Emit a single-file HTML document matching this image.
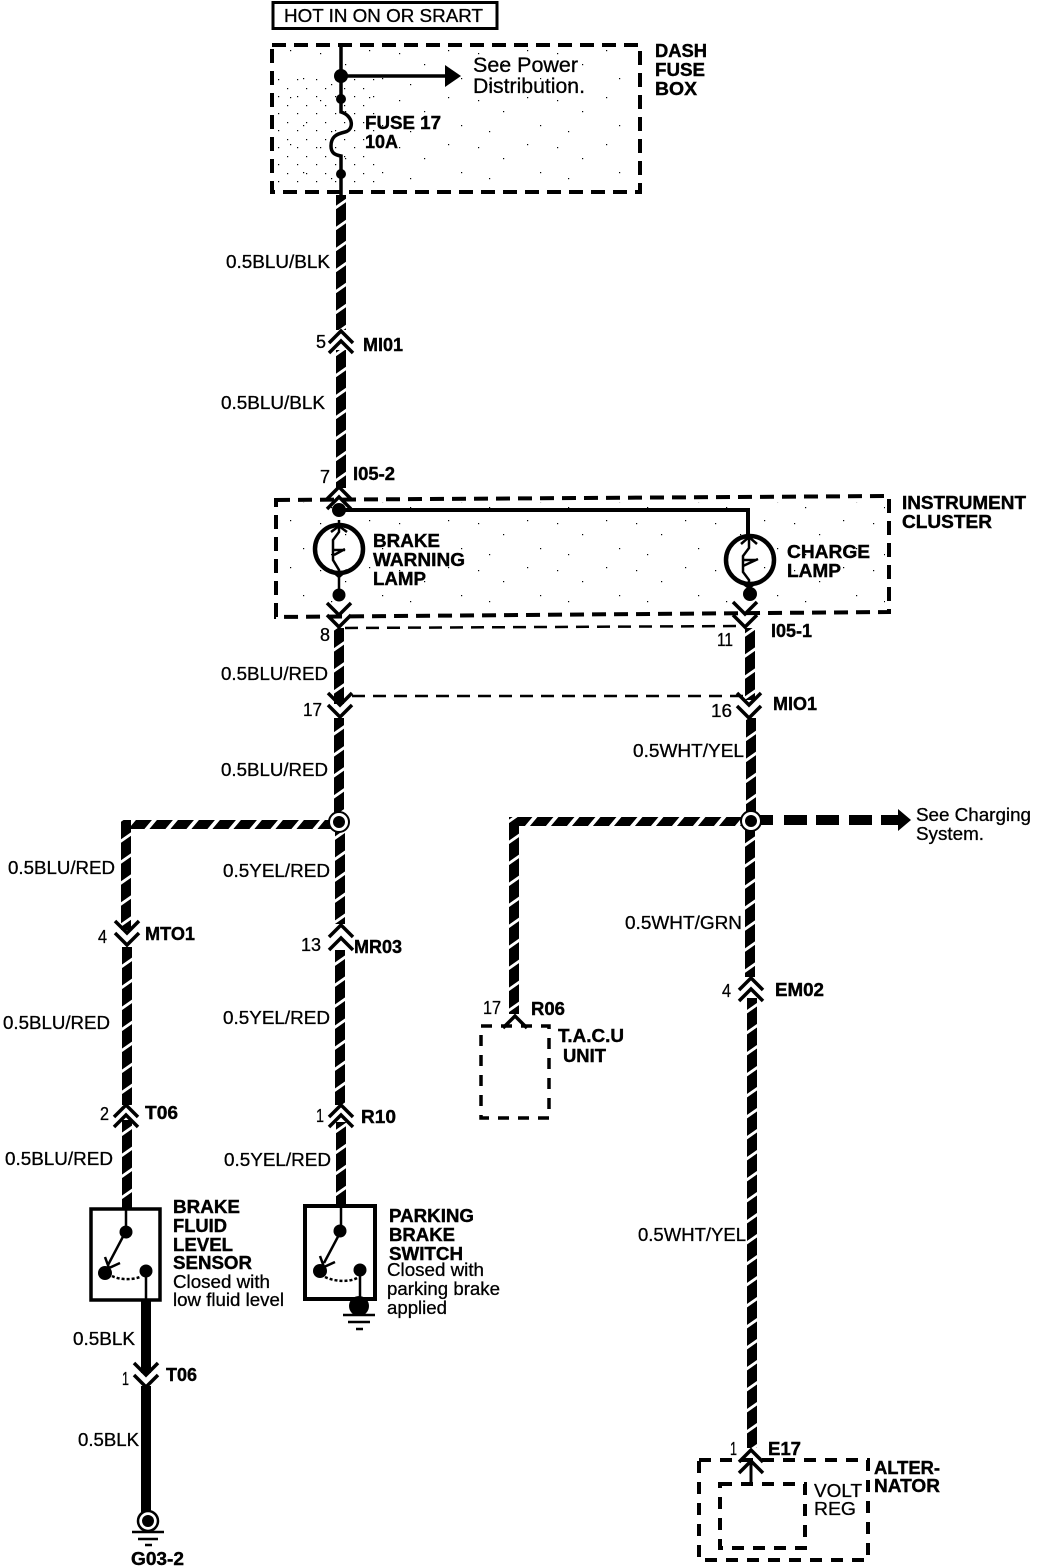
<!DOCTYPE html>
<html><head><meta charset="utf-8"><style>
html,body{margin:0;padding:0;background:#fff}
svg{display:block}
text{font-family:"Liberation Sans",sans-serif;font-size:18.5px;fill:#000;stroke:#000;stroke-width:.3}
.b{font-weight:bold;font-size:18px;stroke-width:.4}
.l{font-size:21px}
.box{fill:none;stroke:#000;stroke-width:4;stroke-dasharray:14 8}
.thin{fill:none;stroke:#000;stroke-width:2.5;stroke-dasharray:13 8}
.ln{fill:none;stroke:#000;stroke-width:3.5}
.chev{fill:none;stroke:#000;stroke-width:3.5}
.f{fill:none;stroke:#000;stroke-width:2.5}
</style></head><body>
<svg width="1056" height="1568" viewBox="0 0 1056 1568" xmlns="http://www.w3.org/2000/svg">
<defs>
<pattern id="v" patternUnits="userSpaceOnUse" width="12" height="21" patternTransform="skewY(-35)"><rect width="12" height="21" fill="#000"/><rect width="12" height="3.500" fill="#fff"/></pattern>
<pattern id="h" patternUnits="userSpaceOnUse" width="21" height="12" patternTransform="skewX(-40)"><rect width="21" height="12" fill="#000"/><rect width="5" height="12" fill="#fff"/></pattern>
<pattern id="dots" patternUnits="userSpaceOnUse" width="79" height="47"><g fill="#000"><rect x="4" y="6" width="1.200" height="1.200"/><rect x="29" y="17" width="1.200" height="1.200"/><rect x="53" y="3" width="1.200" height="1.200"/><rect x="66" y="31" width="1.200" height="1.200"/><rect x="15" y="37" width="1.200" height="1.200"/></g></pattern>
<pattern id="dots2" patternUnits="userSpaceOnUse" width="19" height="17"><g fill="#000"><rect x="2" y="3" width="1.200" height="1.200"/><rect x="12" y="11" width="1.200" height="1.200"/></g></pattern>
<g id="cu"><path d="M-12 12 L0 0 L12 12" class="chev"/></g>
<g id="cd"><path d="M-12 -12 L0 0 L12 -12" class="chev"/></g>
</defs>

<!-- stipple -->
<rect x="276" y="48" width="360" height="142" fill="url(#dots)"/>
<rect x="278" y="78" width="100" height="110" fill="url(#dots2)"/>
<rect x="280" y="502" width="605" height="110" fill="url(#dots)"/>

<!-- wires -->
<rect x="336" y="195" width="10" height="135" fill="url(#v)"/>
<rect x="336" y="350" width="10" height="138" fill="url(#v)"/>
<rect x="334" y="628" width="10" height="76" fill="url(#v)"/>
<rect x="334" y="718" width="10" height="104" fill="url(#v)"/>
<rect x="335" y="832" width="10" height="92" fill="url(#v)"/>
<rect x="335" y="950" width="10" height="155" fill="url(#v)"/>
<rect x="336" y="1122" width="10" height="84" fill="url(#v)"/>
<rect x="122" y="820" width="218" height="9" fill="url(#h)"/>
<rect x="121" y="820" width="10" height="110" fill="url(#v)"/>
<rect x="122" y="947" width="10" height="158" fill="url(#v)"/>
<rect x="122" y="1120" width="10" height="88" fill="url(#v)"/>
<rect x="510" y="817" width="240" height="9" fill="url(#h)"/>
<rect x="509" y="817" width="10" height="197" fill="url(#v)"/>
<rect x="745" y="628" width="10" height="72" fill="url(#v)"/>
<rect x="746" y="718" width="10" height="102" fill="url(#v)"/>
<rect x="745" y="830" width="10" height="147" fill="url(#v)"/>
<rect x="747" y="998" width="10" height="450" fill="url(#v)"/>
<rect x="141" y="1300" width="10" height="73" fill="#000"/>
<rect x="141" y="1386" width="10" height="130" fill="#000"/>

<!-- charging arrow -->
<path d="M750 815h23v10h-23zM784 815h23v10h-23zM816 815h23v10h-23zM849 815h23v10h-23zM881 815h17v-6l13 11-13 11v-6h-17z" fill="#000"/>

<!-- boxes -->
<rect x="273" y="2.500" width="224" height="26" fill="#fff" stroke="#000" stroke-width="3"/>
<rect x="272" y="45" width="368" height="147" class="box"/>
<path d="M276 500 L889 496 L889 612 L276 617 Z" class="box"/>
<path d="M345 628 L745 626" class="thin"/>
<path d="M352 696 L745 696" class="thin"/>
<rect x="481" y="1026" width="68" height="92" class="box" style="stroke-width:3.500;stroke-dasharray:11 9"/>
<rect x="699" y="1460" width="169" height="100" class="box" style="stroke-dasharray:12 9"/>
<rect x="720" y="1484" width="85" height="64" class="box" style="stroke-dasharray:12 9"/>

<!-- fuse -->
<path d="M341 43 V112 C354 116 354 130 345 132 C336 134 331 137 331 146 C331 153 335 155 341 156 V195" class="ln"/>
<path d="M341 76 H448" class="ln"/>
<path d="M445 65 L461 76 L445 87 Z" fill="#000"/>
<circle cx="341" cy="76" r="7"/><circle cx="341" cy="99" r="5"/><circle cx="341" cy="174" r="5"/>

<!-- cluster -->
<path d="M340 510 H748 V540" fill="none" stroke="#000" stroke-width="4"/>
<circle cx="339" cy="510" r="7"/>
<circle cx="339" cy="549" r="24" fill="none" stroke="#000" stroke-width="4.500"/>
<circle cx="750" cy="560" r="24" fill="none" stroke="#000" stroke-width="4.500"/>
<path d="M339 520 V532 L333 540 V560 L339 570 V600" class="f"/>
<path d="M334 550 H345 M334 555 L345 549" class="f"/>
<path d="M331 532 L339 526 L347 532 M331 570 L339 577 L347 570" class="f"/>
<path d="M749 538 V548 L743 556 V572 L749 580 V600" class="f"/>
<path d="M743 560 H756 M743 566 L758 559" class="f"/>
<path d="M741 544 L749 537 L757 544 M741 582 L749 588 L757 582" class="f"/>
<circle cx="339" cy="595" r="6.500"/>
<circle cx="750" cy="594" r="7"/>

<!-- junctions -->
<circle cx="339" cy="822" r="10" fill="#fff" stroke="#000" stroke-width="2"/><circle cx="339" cy="822" r="6"/>
<circle cx="751" cy="821" r="10" fill="#fff" stroke="#000" stroke-width="2"/><circle cx="751" cy="821" r="6"/>

<!-- connectors -->
<g fill="none">
<use href="#cu" x="341" y="331"/><use href="#cu" x="341" y="341"/>
<use href="#cu" x="339" y="487"/><use href="#cu" x="339" y="497"/>
<use href="#cd" x="339" y="615"/><use href="#cd" x="339" y="627"/>
<use href="#cd" x="340" y="705"/><use href="#cd" x="340" y="717"/>
<use href="#cd" x="745" y="614"/><use href="#cd" x="745" y="627"/>
<use href="#cd" x="749" y="705"/><use href="#cd" x="749" y="718"/>
<use href="#cd" x="127" y="933"/><use href="#cd" x="127" y="945"/>
<use href="#cu" x="341" y="925"/><use href="#cu" x="341" y="938"/>
<use href="#cu" x="751" y="978"/><use href="#cu" x="751" y="989"/>
<use href="#cu" x="515" y="1016"/>
<use href="#cu" x="126" y="1105"/><use href="#cu" x="126" y="1115"/>
<use href="#cu" x="341" y="1105"/><use href="#cu" x="341" y="1115"/>
<use href="#cd" x="146" y="1375"/><use href="#cd" x="146" y="1387"/>
<use href="#cu" x="751" y="1450"/><use href="#cu" x="751" y="1461"/>
<path d="M751 1461 V1484" stroke="#000" stroke-width="3"/>
</g>

<!-- brake fluid sensor -->
<rect x="91" y="1209" width="69" height="91" fill="#fff" stroke="#000" stroke-width="3.500"/>
<rect x="122" y="1190" width="9" height="18" fill="url(#v)"/>
<path d="M126 1209 V1231 L108 1265 M105 1257 L109 1268 L120 1263 M146 1271 V1300" class="f"/>
<path d="M112 1276 C120 1280 132 1280 140 1277" fill="none" stroke="#000" stroke-width="2.500" stroke-dasharray="3 2"/>
<circle cx="126" cy="1232" r="6.500"/><circle cx="105" cy="1273" r="7"/><circle cx="146" cy="1271" r="6.500"/>

<!-- parking brake switch -->
<rect x="305" y="1206" width="70" height="93" fill="#fff" stroke="#000" stroke-width="4"/>
<rect x="336" y="1190" width="9" height="16" fill="url(#v)"/>
<path d="M341 1206 V1231 L324 1263 M320 1256 L324 1267 L335 1262 M360 1270 V1299" class="f"/>
<path d="M325 1277 C335 1282 350 1282 357 1278" fill="none" stroke="#000" stroke-width="2.500" stroke-dasharray="3 2"/>
<circle cx="340" cy="1231" r="6.500"/><circle cx="320" cy="1271" r="7"/><circle cx="360" cy="1270" r="6.500"/>
<circle cx="359" cy="1306" r="10"/>
<path d="M343 1315 H375 M348 1322 H370 M356 1329 H363" stroke="#000" stroke-width="2.500"/>

<!-- ground G03 -->
<circle cx="148" cy="1521" r="10" fill="#fff" stroke="#000" stroke-width="2.500"/><circle cx="148" cy="1521" r="6"/>
<path d="M132 1532 H164 M138 1539 H158 M145 1545 H152" stroke="#000" stroke-width="2.500"/>

<!-- text -->
<text lengthAdjust="spacingAndGlyphs" x="284" y="22" textLength="199">HOT IN ON OR SRART</text>
<text lengthAdjust="spacingAndGlyphs" class="l" x="473" y="72" textLength="105">See Power</text>
<text lengthAdjust="spacingAndGlyphs" class="l" x="473" y="93" textLength="112">Distribution.</text>
<text lengthAdjust="spacingAndGlyphs" class="b" x="655" y="57" textLength="52">DASH</text>
<text lengthAdjust="spacingAndGlyphs" class="b" x="655" y="76" textLength="50">FUSE</text>
<text lengthAdjust="spacingAndGlyphs" class="b" x="655" y="95" textLength="42">BOX</text>
<text lengthAdjust="spacingAndGlyphs" class="b" x="365" y="129" textLength="76">FUSE 17</text>
<text lengthAdjust="spacingAndGlyphs" class="b" x="365" y="148" textLength="33">10A</text>
<text lengthAdjust="spacingAndGlyphs" x="226" y="268" textLength="104">0.5BLU/BLK</text>
<text lengthAdjust="spacingAndGlyphs" x="316" y="348" textLength="10">5</text>
<text lengthAdjust="spacingAndGlyphs" class="b" x="363" y="351" textLength="40">MI01</text>
<text lengthAdjust="spacingAndGlyphs" x="221" y="409" textLength="104">0.5BLU/BLK</text>
<text lengthAdjust="spacingAndGlyphs" x="320" y="483" textLength="10">7</text>
<text lengthAdjust="spacingAndGlyphs" class="b" x="353" y="480" textLength="42">I05-2</text>
<text lengthAdjust="spacingAndGlyphs" class="b" x="902" y="509" textLength="124">INSTRUMENT</text>
<text lengthAdjust="spacingAndGlyphs" class="b" x="902" y="528" textLength="90">CLUSTER</text>
<text lengthAdjust="spacingAndGlyphs" class="b" x="373" y="547" textLength="67">BRAKE</text>
<text lengthAdjust="spacingAndGlyphs" class="b" x="373" y="566" textLength="92">WARNING</text>
<text lengthAdjust="spacingAndGlyphs" class="b" x="373" y="585" textLength="53">LAMP</text>
<text lengthAdjust="spacingAndGlyphs" class="b" x="787" y="558" textLength="83">CHARGE</text>
<text lengthAdjust="spacingAndGlyphs" class="b" x="787" y="577" textLength="54">LAMP</text>
<text lengthAdjust="spacingAndGlyphs" x="320" y="641" textLength="10">8</text>
<text lengthAdjust="spacingAndGlyphs" x="717" y="646" textLength="16">11</text>
<text lengthAdjust="spacingAndGlyphs" class="b" x="771" y="637" textLength="41">I05-1</text>
<text lengthAdjust="spacingAndGlyphs" x="221" y="680" textLength="107">0.5BLU/RED</text>
<text lengthAdjust="spacingAndGlyphs" x="303" y="716" textLength="19">17</text>
<text lengthAdjust="spacingAndGlyphs" x="711" y="717" textLength="21">16</text>
<text lengthAdjust="spacingAndGlyphs" class="b" x="773" y="710" textLength="44">MIO1</text>
<text lengthAdjust="spacingAndGlyphs" x="633" y="757" textLength="111">0.5WHT/YEL</text>
<text lengthAdjust="spacingAndGlyphs" x="221" y="776" textLength="107">0.5BLU/RED</text>
<text lengthAdjust="spacingAndGlyphs" x="916" y="821" textLength="115">See Charging</text>
<text lengthAdjust="spacingAndGlyphs" x="916" y="840" textLength="68">System.</text>
<text lengthAdjust="spacingAndGlyphs" x="8" y="874" textLength="107">0.5BLU/RED</text>
<text lengthAdjust="spacingAndGlyphs" x="223" y="877" textLength="107">0.5YEL/RED</text>
<text lengthAdjust="spacingAndGlyphs" x="625" y="929" textLength="117">0.5WHT/GRN</text>
<text lengthAdjust="spacingAndGlyphs" x="98" y="943" textLength="9">4</text>
<text lengthAdjust="spacingAndGlyphs" class="b" x="145" y="940" textLength="50">MTO1</text>
<text lengthAdjust="spacingAndGlyphs" x="301" y="951" textLength="20">13</text>
<text lengthAdjust="spacingAndGlyphs" class="b" x="354" y="953" textLength="48">MR03</text>
<text lengthAdjust="spacingAndGlyphs" x="722" y="997" textLength="9">4</text>
<text lengthAdjust="spacingAndGlyphs" class="b" x="775" y="996" textLength="49">EM02</text>
<text lengthAdjust="spacingAndGlyphs" x="483" y="1014" textLength="18">17</text>
<text lengthAdjust="spacingAndGlyphs" class="b" x="531" y="1015" textLength="34">R06</text>
<text lengthAdjust="spacingAndGlyphs" class="b" x="558" y="1042" textLength="66">T.A.C.U</text>
<text lengthAdjust="spacingAndGlyphs" class="b" x="563" y="1062" textLength="43">UNIT</text>
<text lengthAdjust="spacingAndGlyphs" x="3" y="1029" textLength="107">0.5BLU/RED</text>
<text lengthAdjust="spacingAndGlyphs" x="223" y="1024" textLength="107">0.5YEL/RED</text>
<text lengthAdjust="spacingAndGlyphs" x="100" y="1120" textLength="9">2</text>
<text lengthAdjust="spacingAndGlyphs" class="b" x="145" y="1119" textLength="33">T06</text>
<text lengthAdjust="spacingAndGlyphs" x="316" y="1122" textLength="8">1</text>
<text lengthAdjust="spacingAndGlyphs" class="b" x="361" y="1123" textLength="35">R10</text>
<text lengthAdjust="spacingAndGlyphs" x="5" y="1165" textLength="108">0.5BLU/RED</text>
<text lengthAdjust="spacingAndGlyphs" x="224" y="1166" textLength="107">0.5YEL/RED</text>
<text lengthAdjust="spacingAndGlyphs" class="b" x="173" y="1213" textLength="67">BRAKE</text>
<text lengthAdjust="spacingAndGlyphs" class="b" x="173" y="1232" textLength="54">FLUID</text>
<text lengthAdjust="spacingAndGlyphs" class="b" x="173" y="1251" textLength="60">LEVEL</text>
<text lengthAdjust="spacingAndGlyphs" class="b" x="173" y="1269" textLength="79">SENSOR</text>
<text lengthAdjust="spacingAndGlyphs" x="173" y="1288" textLength="97">Closed with</text>
<text lengthAdjust="spacingAndGlyphs" x="173" y="1306" textLength="111">low fluid level</text>
<text lengthAdjust="spacingAndGlyphs" class="b" x="389" y="1222" textLength="85">PARKING</text>
<text lengthAdjust="spacingAndGlyphs" class="b" x="389" y="1241" textLength="66">BRAKE</text>
<text lengthAdjust="spacingAndGlyphs" class="b" x="389" y="1260" textLength="74">SWITCH</text>
<text lengthAdjust="spacingAndGlyphs" x="387" y="1276" textLength="97">Closed with</text>
<text lengthAdjust="spacingAndGlyphs" x="387" y="1295" textLength="113">parking brake</text>
<text lengthAdjust="spacingAndGlyphs" x="387" y="1314" textLength="60">applied</text>
<text lengthAdjust="spacingAndGlyphs" x="638" y="1241" textLength="108">0.5WHT/YEL</text>
<text lengthAdjust="spacingAndGlyphs" x="73" y="1345" textLength="62">0.5BLK</text>
<text lengthAdjust="spacingAndGlyphs" x="122" y="1385" textLength="7">1</text>
<text lengthAdjust="spacingAndGlyphs" class="b" x="166" y="1381" textLength="31">T06</text>
<text lengthAdjust="spacingAndGlyphs" x="78" y="1446" textLength="61">0.5BLK</text>
<text lengthAdjust="spacingAndGlyphs" class="b" x="131" y="1565" textLength="53">G03-2</text>
<text lengthAdjust="spacingAndGlyphs" x="730" y="1455" textLength="7">1</text>
<text lengthAdjust="spacingAndGlyphs" class="b" x="768" y="1455" textLength="33">E17</text>
<text lengthAdjust="spacingAndGlyphs" class="b" x="874" y="1474" textLength="66">ALTER-</text>
<text lengthAdjust="spacingAndGlyphs" class="b" x="874" y="1492" textLength="66">NATOR</text>
<text lengthAdjust="spacingAndGlyphs" x="814" y="1497" textLength="48">VOLT</text>
<text lengthAdjust="spacingAndGlyphs" x="814" y="1515" textLength="42">REG</text>
</svg>
</body></html>
